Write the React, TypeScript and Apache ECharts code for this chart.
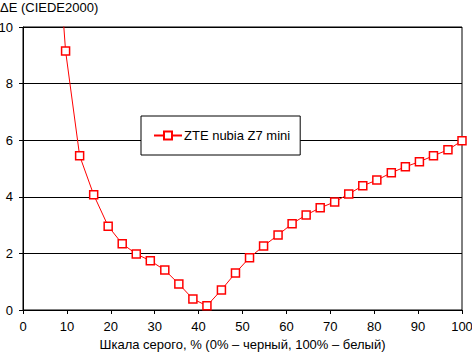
import React, { useEffect, useRef } from "react";
import * as echarts from "echarts";

const seriesName = "ZTE nubia Z7 mini";
const grayPercent = [6.5, 9.7, 12.9, 16.1, 19.4, 22.6, 25.8, 29.0, 32.3, 35.5, 38.7, 41.9, 45.2, 48.4, 51.6, 54.8, 58.1, 61.3, 64.5, 67.7, 71.0, 74.2, 77.4, 80.6, 83.9, 87.1, 90.3, 93.5, 96.8, 100];
const deltaE = [16.0, 9.15, 5.45, 4.07, 2.96, 2.34, 1.98, 1.74, 1.41, 0.92, 0.39, 0.15, 0.71, 1.31, 1.85, 2.26, 2.65, 3.05, 3.36, 3.61, 3.82, 4.10, 4.39, 4.59, 4.85, 5.06, 5.24, 5.45, 5.66, 5.98];
const xTitle = "Шкала серого, % (0% – черный, 100% – белый)";
const yTitle = "ΔE (CIEDE2000)";

const FONT = "'Liberation Sans', Arial, sans-serif";

export default function App() {
  const ref = useRef<HTMLDivElement>(null);
  useEffect(() => {
    if (!ref.current) return;
    const chart = echarts.init(ref.current, undefined, { renderer: "svg" });
    chart.setOption({
      animation: false,
      backgroundColor: "#ffffff",
      textStyle: { fontFamily: FONT, color: "#000" },
      grid: {
        left: 23,
        right: 10,
        top: 27,
        bottom: 42,
        containLabel: false,
        outerBoundsMode: "none",
        show: true,
        borderColor: "#000",
        borderWidth: 1,
        backgroundColor: "transparent",
      },
      graphic: [
        {
          type: "text",
          left: 0,
          top: 1,
          style: { text: yTitle, font: `13px ${FONT}`, fill: "#000" },
        },
      ],
      legend: {
        left: 141,
        top: 116,
        width: 125,
        padding: [13, 10, 13, 12],
        backgroundColor: "#fff",
        borderColor: "#000",
        borderWidth: 1,
        itemWidth: 28,
        itemHeight: 10,
        itemGap: 4,
        textStyle: { fontFamily: FONT, fontSize: 13, color: "#000", padding: [0, 0, 0, -3] },
        data: [seriesName],
      },
      xAxis: {
        type: "value",
        min: 0,
        max: 100,
        interval: 10,
        name: xTitle,
        nameLocation: "middle",
        nameGap: 28,
        nameTextStyle: { fontFamily: FONT, fontSize: 13, color: "#000" },
        axisLine: { show: true, lineStyle: { color: "#000", width: 1 } },
        axisTick: { show: true, length: 4, lineStyle: { color: "#000" } },
        axisLabel: { fontFamily: FONT, fontSize: 13, color: "#000", margin: 10 },
        splitLine: { show: false },
      },
      yAxis: {
        type: "value",
        min: 0,
        max: 10,
        interval: 2,
        axisLine: { show: true, lineStyle: { color: "#000", width: 1 } },
        axisTick: { show: true, length: 4, lineStyle: { color: "#000" } },
        axisLabel: { fontFamily: FONT, fontSize: 13, color: "#000", margin: 10 },
        splitLine: { show: true, lineStyle: { color: "#000", width: 1 } },
      },
      series: [
        {
          name: seriesName,
          type: "line",
          data: grayPercent.map((x, i) => [x, deltaE[i]]),
          smooth: false,
          clip: true,
          symbol: "rect",
          symbolSize: 8,
          showAllSymbol: true,
          lineStyle: { color: "#ff0000", width: 1 },
          itemStyle: { color: "#fff", borderColor: "#ff0000", borderWidth: 1.5 },
        },
      ],
    });
    return () => chart.dispose();
  }, []);
  return <div ref={ref} style={{ width: 472, height: 352, position: "absolute", left: 0, top: 0 }} />;
}
